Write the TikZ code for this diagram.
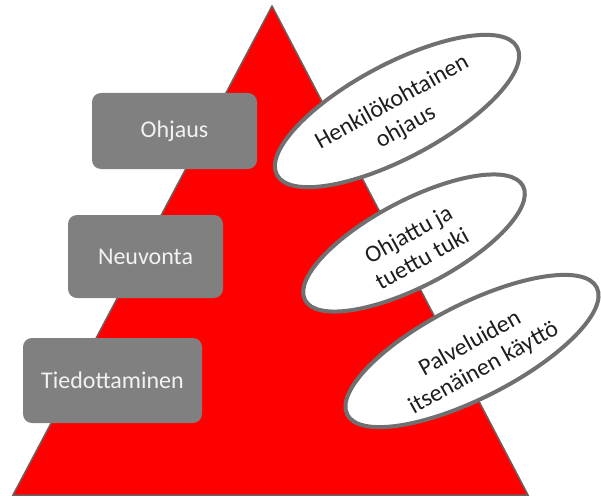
\documentclass[tikz,border=0pt]{standalone}
\usepackage{fontspec}
\setmainfont{Carlito}
\usetikzlibrary{shapes.geometric}
\definecolor{pyrred}{RGB}{255,0,0}
\definecolor{pyredge}{RGB}{110,96,96}
\definecolor{boxgray}{RGB}{128,128,128}
\definecolor{ovaledge}{RGB}{112,112,112}
\definecolor{txtdark}{RGB}{30,30,30}
\tikzset{
  levelbox/.style={draw=none, fill=boxgray, rounded corners=9pt, inner sep=0pt},
  boxtext/.style={text=white!95!black, font=\fontsize{24}{28}\selectfont},
  oval/.style={ellipse, draw=ovaledge, line width=4pt, fill=white, inner sep=0pt},
  ovaltext/.style={text=txtdark, align=center, font=\fontsize{24}{28}\selectfont, rotate=29, inner sep=0pt},
}
\begin{document}
\begin{tikzpicture}[x=1pt,y=-1pt]
\useasboundingbox (0,0) rectangle (601,497);
% pyramid
\coordinate (apex) at (272,6);
\coordinate (bl) at (13,495);
\coordinate (br) at (528,495);
\draw[fill=pyrred, draw=pyredge, line width=1.5pt, line join=miter] (apex) -- (br) -- (bl) -- cycle;
% left boxes
\node[levelbox, minimum width=165pt, minimum height=76pt] (ohj) at (174.5,131) {};
\node[boxtext] (ohjt) at (ohj.center) {Ohjaus};
\node[levelbox, minimum width=155pt, minimum height=83pt] (neu) at (145.5,256.5) {};
\node[boxtext] (neut) at (neu.center) {Neuvonta};
\node[levelbox, minimum width=179pt, minimum height=85pt] (tie) at (112.5,380.5) {};
\node[boxtext] (tiet) at (tie.center) {Tiedottaminen};
% ovals
\node[oval, minimum width=272pt, minimum height=94pt, rotate=28] (e1) at (397,111) {};
\node[ovaltext] (e1t) at ([shift={(2,4)}]e1.center) {Henkilökohtainen\\ohjaus};
\node[oval, minimum width=246pt, minimum height=86pt, rotate=27.6] (e2) at (414,243) {};
\node[ovaltext] (e2t) at ([shift={(1,3)}]e2.center) {Ohjattu ja\\tuettu tuki};
\node[oval, minimum width=280pt, minimum height=94pt, rotate=27] (e3) at (472,351) {};
\node[ovaltext] (e3t) at ([shift={(5,5)}]e3.center) {Palveluiden\\itsenäinen käyttö};
\end{tikzpicture}
\end{document}
